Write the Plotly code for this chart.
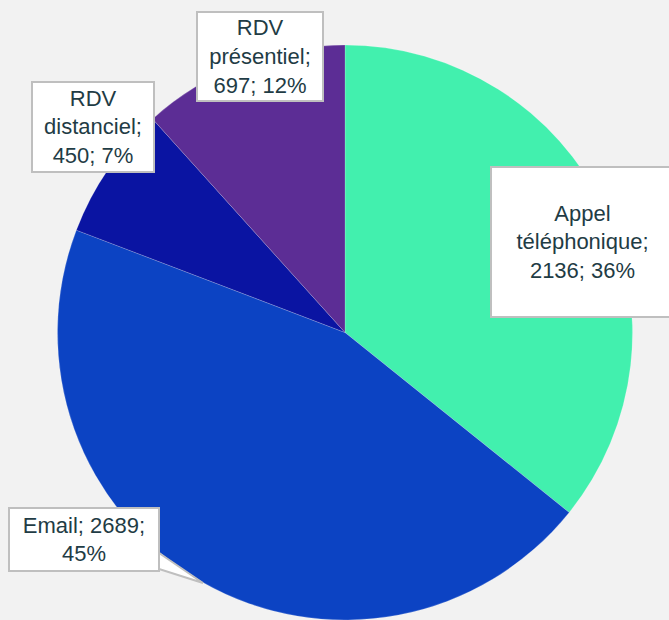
import plotly.graph_objects as go

labels = ["Appel téléphonique", "Email", "RDV distanciel", "RDV présentiel"]
values = [2136, 2689, 450, 697]
box_texts = [
    "Appel<br>téléphonique;<br>2136; 36%",
    "Email; 2689;<br>45%",
    "RDV<br>distanciel;<br>450; 7%",
    "RDV<br>présentiel;<br>697; 12%",
]
colors = ["#42f0ae", "#0c43c3", "#0a14a2", "#5c2d95"]

W, H = 669, 620

def px(x):
    return x / W

def py(y):
    return 1 - y / H

fig = go.Figure()
fig.add_trace(go.Pie(
    labels=labels, values=values, sort=False, direction="clockwise", rotation=0,
    marker=dict(colors=colors, line=dict(color="rgba(255,255,255,0.3)", width=0.6)),
    textinfo="none", hoverinfo="label+value+percent", showlegend=False,
    domain=dict(x=[px(57), px(633)], y=[0, py(45)]),
))

# label boxes: (center x, center y, width, height) in pixels
boxes = [
    (582, 242, 185, 152),
    (84, 539.5, 152, 65),
    (93, 127, 124, 92),
    (260, 56.5, 128, 91),
]

# callout for Email
fig.add_shape(type="path",
              path=f"M {px(159)} {py(553)} L {px(203)} {py(583)} L {px(159)} {py(569)} Z",
              xref="paper", yref="paper", fillcolor="white",
              line=dict(color="#bfbfbf", width=2), layer="above")

for (cx, cy, bw, bh), t in zip(boxes, box_texts):
    fig.add_annotation(
        x=px(cx), y=py(cy), xref="paper", yref="paper", xanchor="center", yanchor="middle",
        text=t, showarrow=False, width=bw - 4, height=bh - 4, borderpad=0,
        bgcolor="white", bordercolor="#bfbfbf", borderwidth=2, align="center", valign="middle",
        font=dict(family="Liberation Sans, Arial", size=22, color="#1f3c45"),
    )

fig.update_layout(
    width=W, height=H, margin=dict(l=0, r=0, t=0, b=0),
    paper_bgcolor="#f2f2f2", plot_bgcolor="#f2f2f2",
)

fig.write_html("out.html", config={"displayModeBar": False},
               post_script="document.body.style.margin='0';document.body.style.background='#f2f2f2';")
